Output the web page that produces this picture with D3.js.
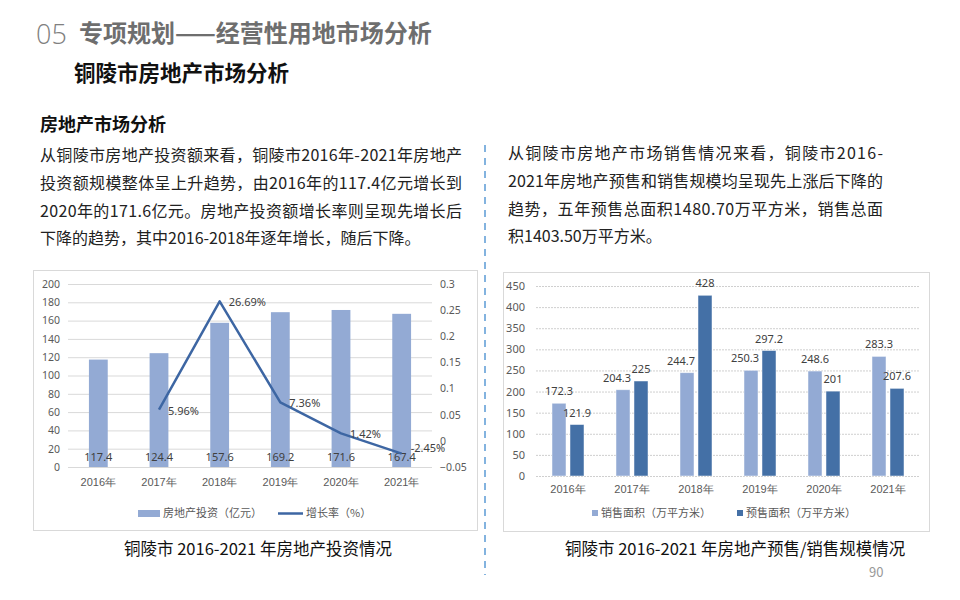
<!DOCTYPE html>
<html>
<head>
<meta charset="utf-8">
<script src="https://cdn.jsdelivr.net/npm/d3@7"></script>
<style>
  body { margin: 0; background: #fff; }
  svg { display: block; font-family: "Noto Sans CJK SC", "Noto Sans", sans-serif; }
</style>
</head>
<body>
<div id="viz"></div>
<script>
// Chart data
const years = ["2016年", "2017年", "2018年", "2019年", "2020年", "2021年"];
const investment = [117.4, 124.4, 157.6, 169.2, 171.6, 167.4];
const growthRate = [null, 0.0596, 0.2669, 0.0736, 0.0142, -0.0245];
const growthLabels = ["", "5.96%", "26.69%", "7.36%", "1.42%", "-2.45%"];
const salesArea = [172.3, 204.3, 244.7, 250.3, 248.6, 283.3];
const presaleArea = [121.9, 225, 428, 297.2, 201, 207.6];
const salesSeries = ["销售面积（万平方米）", "预售面积（万平方米）"];
const leftTicks = [0, 20, 40, 60, 80, 100, 120, 140, 160, 180, 200];
const rightTicks = [-0.05, 0, 0.05, 0.1, 0.15, 0.2, 0.25, 0.3];

// Page text
const leftText = [
    "从铜陵市房地产投资额来看，铜陵市2016年-2021年房地产",
    "投资额规模整体呈上升趋势，由2016年的117.4亿元增长到",
    "2020年的171.6亿元。房地产投资额增长率则呈现先增长后",
    "下降的趋势，其中2016-2018年逐年增长，随后下降。"
];
const rightText = [
    "从铜陵市房地产市场销售情况来看，铜陵市2016-",
    "2021年房地产预售和销售规模均呈现先上涨后下降的",
    "趋势，五年预售总面积1480.70万平方米，销售总面",
    "积1403.50万平方米。"
];

const width = 960;
const height = 600;
const lightBlue = "#93aad4";
const darkBlue = "#4470a6";
const lineBlue = "#3d66a3";
const textGray = "#595959";

// Draws a justified paragraph: every line but the last is stretched to the column width
const paragraph = (svg, lines, x, y0, colWidth) => {
    svg.append("g").selectAll("text")
        .data(lines)
        .join("text")
        .attr("x", x)
        .attr("y", (d, i) => y0 + i * 27.8)
        .attr("font-size", 16)
        .attr("fill", "#222")
        .each(function (d, i) {
            if (i < lines.length - 1) {
                d3.select(this)
                    .attr("textLength", colWidth)
                    .attr("lengthAdjust", "spacing");
            }
        })
        .text(d => d);
}

function main() {
    const svg = d3.select("#viz").append("svg")
        .attr("width", width)
        .attr("height", height)
        .style("background", "#fff");

    // Headings
    svg.append("text")
        .attr("x", 36).attr("y", 44)
        .attr("font-size", 27)
        .attr("font-weight", 300)
        .attr("fill", "#808080")
        .attr("font-family", "'Open Sans', 'Noto Sans', sans-serif")
        .text("05");
    svg.append("text")
        .attr("x", 79).attr("y", 42)
        .attr("font-size", 24)
        .attr("font-weight", "bold")
        .attr("fill", "#6e6e6e")
        .text("专项规划——经营性用地市场分析");
    svg.append("text")
        .attr("x", 74).attr("y", 81)
        .attr("font-size", 21.5)
        .attr("font-weight", "bold")
        .attr("fill", "#111")
        .text("铜陵市房地产市场分析");
    svg.append("text")
        .attr("x", 40).attr("y", 131)
        .attr("font-size", 18)
        .attr("font-weight", "bold")
        .attr("fill", "#111")
        .text("房地产市场分析");

    // Paragraphs
    paragraph(svg, leftText, 40, 161, 422);
    paragraph(svg, rightText, 508, 159, 375);

    // Dashed separator
    svg.append("line")
        .attr("x1", 485).attr("x2", 485)
        .attr("y1", 145).attr("y2", 575)
        .attr("stroke", "#5b9bd5")
        .attr("stroke-width", 1.5)
        .attr("stroke-dasharray", "7,6");

    // ---------------- Left chart ----------------
    svg.append("rect")
        .attr("x", 33.5).attr("y", 270.5)
        .attr("width", 444).attr("height", 260)
        .attr("fill", "#fff")
        .attr("stroke", "#d9d9d9");

    const x = d3.scaleBand()
        .domain(years)
        .range([68, 432])
        .paddingInner(0.69)
        .paddingOuter(0.345);
    const y = d3.scaleLinear().domain([0, 200]).range([467, 284]);
    const y2 = d3.scaleLinear().domain([-0.05, 0.3]).range([467, 284]);

    const gl = svg.append("g")
        .attr("transform", "translate(68,0)")
        .call(d3.axisLeft(y).tickValues(leftTicks).tickSize(-364).tickPadding(8));
    gl.select(".domain").remove();
    gl.selectAll(".tick line").attr("stroke", "#d9d9d9");
    gl.selectAll(".tick text")
        .attr("fill", textGray)
        .attr("font-size", 10.5)
        .attr("font-family", "'Noto Sans', sans-serif");

    const gr = svg.append("g")
        .attr("transform", "translate(432,0)")
        .call(d3.axisRight(y2).tickValues(rightTicks).tickSize(0).tickPadding(8)
            .tickFormat(d => d3.format("")(+d.toFixed(2))));
    gr.select(".domain").remove();
    gr.selectAll(".tick text")
        .attr("fill", textGray)
        .attr("font-size", 10.5)
        .attr("font-family", "'Noto Sans', sans-serif");

    svg.append("g").selectAll("rect")
        .data(investment)
        .join("rect")
        .attr("x", (d, i) => x(years[i]))
        .attr("y", d => y(d))
        .attr("width", x.bandwidth())
        .attr("height", d => y(0) - y(d))
        .attr("fill", lightBlue);

    svg.append("g").selectAll("text")
        .data(investment)
        .join("text")
        .attr("x", (d, i) => x(years[i]) + x.bandwidth() / 2)
        .attr("y", y(0) - 6)
        .attr("text-anchor", "middle")
        .attr("font-size", 11)
        .attr("fill", "#404040")
        .attr("font-family", "'Noto Sans', sans-serif")
        .text(d => d);

    const xa = svg.append("g")
        .attr("transform", "translate(0,467)")
        .call(d3.axisBottom(x).tickSize(0).tickPadding(11));
    xa.select(".domain").remove();
    xa.selectAll(".tick text").attr("fill", textGray).attr("font-size", 11);

    const pts = growthRate.map((d, i) => ({ year: years[i], v: d, label: growthLabels[i] }))
        .filter(d => d.v !== null);
    const line = d3.line()
        .x(d => x(d.year) + x.bandwidth() / 2)
        .y(d => y2(d.v));
    svg.append("path")
        .datum(pts)
        .attr("d", line)
        .attr("fill", "none")
        .attr("stroke", lineBlue)
        .attr("stroke-width", 2.5)
        .attr("stroke-linejoin", "round");

    svg.append("g").selectAll("text")
        .data(pts)
        .join("text")
        .attr("x", d => x(d.year) + x.bandwidth() / 2 + 9)
        .attr("y", (d, i) => y2(d.v) + (i === pts.length - 1 ? -2 : 5))
        .attr("font-size", 11)
        .attr("fill", "#404040")
        .attr("font-family", "'Noto Sans', sans-serif")
        .text(d => d.label);

    // Legend left
    const lgL = svg.append("g");
    lgL.append("rect").attr("x", 138).attr("y", 510).attr("width", 22).attr("height", 7).attr("fill", lightBlue);
    lgL.append("text").attr("x", 163).attr("y", 517).attr("font-size", 11).attr("fill", textGray).text("房地产投资（亿元）");
    lgL.append("line").attr("x1", 278).attr("x2", 303).attr("y1", 513.5).attr("y2", 513.5)
        .attr("stroke", lineBlue).attr("stroke-width", 2.5);
    lgL.append("text").attr("x", 306).attr("y", 517).attr("font-size", 11).attr("fill", textGray).text("增长率（%）");

    // ---------------- Right chart ----------------
    svg.append("rect")
        .attr("x", 503.5).attr("y", 272.5)
        .attr("width", 426).attr("height", 259)
        .attr("fill", "#fff")
        .attr("stroke", "#d9d9d9");

    const x0 = d3.scaleBand()
        .domain(years)
        .range([536, 920])
        .paddingInner(0.5)
        .paddingOuter(0.25);
    const x1 = d3.scaleBand()
        .domain(salesSeries)
        .range([0, x0.bandwidth()])
        .paddingInner(0.222);
    const yR = d3.scaleLinear().domain([0, 450]).range([476, 286]);
    const colors = d3.scaleOrdinal().domain(salesSeries).range([lightBlue, darkBlue]);

    const gy = svg.append("g")
        .attr("transform", "translate(536,0)")
        .call(d3.axisLeft(yR).ticks(9).tickSize(-384).tickPadding(11));
    gy.select(".domain").remove();
    gy.selectAll(".tick line").attr("stroke", "#cfcfcf").attr("stroke-dasharray", "2,1");
    gy.selectAll(".tick text")
        .attr("fill", textGray)
        .attr("font-size", 11)
        .attr("font-family", "'Noto Sans', sans-serif");

    const groups = years.map((yr, i) => ({
        year: yr,
        values: [
            { key: salesSeries[0], v: salesArea[i], other: presaleArea[i] },
            { key: salesSeries[1], v: presaleArea[i], other: salesArea[i] }
        ]
    }));

    const g = svg.append("g").selectAll("g")
        .data(groups)
        .join("g")
        .attr("transform", d => `translate(${x0(d.year)},0)`);
    g.selectAll("rect")
        .data(d => d.values)
        .join("rect")
        .attr("x", d => x1(d.key))
        .attr("y", d => yR(d.v))
        .attr("width", x1.bandwidth())
        .attr("height", d => yR(0) - yR(d.v))
        .attr("fill", d => colors(d.key))
        .attr("stroke", "#fff")
        .attr("stroke-opacity", 0.6)
        .attr("stroke-width", 0.8);

    // A label of the first bar that would run into a taller neighbour is pushed left
    const blocked = d => d.key === salesSeries[0] && d.other > d.v + 15;
    g.selectAll("text")
        .data(d => d.values)
        .join("text")
        .attr("x", d => blocked(d) ? x1(d.key) + x1.bandwidth() + 1 : x1(d.key) + x1.bandwidth() / 2)
        .attr("y", d => yR(d.v) - 8)
        .attr("text-anchor", d => blocked(d) ? "end" : "middle")
        .attr("font-size", 11)
        .attr("fill", "#404040")
        .attr("font-family", "'Noto Sans', sans-serif")
        .text(d => d.v);

    const xb = svg.append("g")
        .attr("transform", "translate(0,476)")
        .call(d3.axisBottom(x0).tickSize(0).tickPadding(9));
    xb.select(".domain").remove();
    xb.selectAll(".tick text").attr("fill", textGray).attr("font-size", 11);

    // Legend right
    const lgR = svg.append("g").selectAll("g")
        .data(salesSeries)
        .join("g")
        .attr("transform", (d, i) => `translate(${i === 0 ? 592 : 737},0)`);
    lgR.append("rect").attr("x", 0).attr("y", 510).attr("width", 6).attr("height", 6).attr("fill", d => colors(d));
    lgR.append("text").attr("x", 9).attr("y", 517).attr("font-size", 11).attr("fill", textGray).text(d => d);

    // Captions
    svg.append("text")
        .attr("x", 124).attr("y", 555)
        .attr("font-size", 16.5)
        .attr("fill", "#111")
        .text("铜陵市 2016-2021 年房地产投资情况");
    svg.append("text")
        .attr("x", 565).attr("y", 555)
        .attr("font-size", 16.5)
        .attr("fill", "#111")
        .text("铜陵市 2016-2021 年房地产预售/销售规模情况");

    svg.append("text")
        .attr("x", 869).attr("y", 577)
        .attr("font-size", 13)
        .attr("fill", "#999")
        .text("90");
}

main();
</script>
</body>
</html>
